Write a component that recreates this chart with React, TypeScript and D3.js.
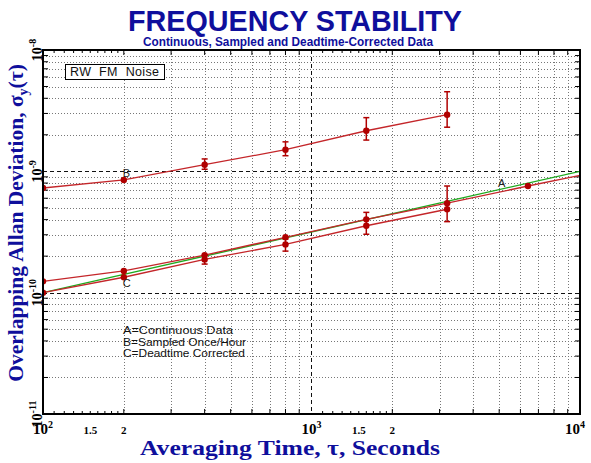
import React from 'react';
import * as d3 from 'd3';

// averaging times, seconds
const tau = [100, 200, 400, 800, 1600, 3200, 6400];

// A = continuous data (line runs on to the right edge)
const contSigma = [1.24e-10, 1.51e-10, 2.04e-10, 2.86e-10, 4.02e-10, 5.46e-10, 7.57e-10];
const contEdge = { tau: 10000, sigma: 9.25e-10 };

// B = sampled once/hour
const sampSigma = [7.29e-10, 8.49e-10, 1.135e-9, 1.507e-9, 2.16e-9, 2.93e-9];

// C = deadtime corrected
const deadSigma = [1.0e-10, 1.34e-10, 1.88e-10, 2.5e-10, 3.56e-10, 4.87e-10];

// RW FM noise model line
const noiseTau = [100, 10000];
const noiseSigma = [1e-10, 1e-9];

// error bars [tau, low, high]
const sampErr = [
    [400, 1.04e-9, 1.265e-9],
    [800, 1.345e-9, 1.75e-9],
    [1600, 1.81e-9, 2.77e-9],
    [3200, 2.31e-9, 4.53e-9],
];
const lowErr = [
    [400, 1.72e-10, 2.04e-10],
    [800, 2.2e-10, 2.77e-10],
    [1600, 3.03e-10, 4.59e-10],
    [3200, 3.85e-10, 7.57e-10],
];

const xDecades = [2, 3, 4];
const yDecades = [-8, -9, -10, -11];
const xSubLabels = ['1.5', '2'];
const legendLines = ['A=Continuous Data', 'B=Sampled Once/Hour', 'C=Deadtime Corrected'];
const legendWidths = [110, 123, 122];

const W = 591, H = 463;
const L = 43, R = 580, T = 50, B = 414;
const BLUE = '#0f0f9c';
const LINE = '#c4262a';
const DOT = '#b00000';

export default function App() {
    const x = d3.scaleLog().domain([100, 10000]).range([L, R]);
    const y = d3.scaleLog().domain([1e-11, 1e-8]).range([B, T]);

    //minor grid values
    const xGrid: number[] = [];
    [2, 3].forEach(d => { for (let k = 2; k <= 9; k++) xGrid.push(k * Math.pow(10, d)); });
    const xSmall: number[] = [];
    [2, 3].forEach(d => { for (let k = 11; k <= 19; k++) xSmall.push(k / 10 * Math.pow(10, d)); });
    const yGrid: number[] = [];
    [-11, -10, -9].forEach(e => { for (let k = 2; k <= 9; k++) yGrid.push(k * Math.pow(10, e)); });

    const line = d3.line<[number, number]>().x(d => x(d[0])).y(d => y(d[1]));
    const contPts: [number, number][] = tau.map((t, i) => [t, contSigma[i]]);
    const sampPts: [number, number][] = sampSigma.map((s, i) => [tau[i], s]);
    const deadPts: [number, number][] = deadSigma.map((s, i) => [tau[i], s]);
    const noisePts: [number, number][] = noiseTau.map((t, i) => [t, noiseSigma[i]]);

    const errBars = (rows: number[][], key: string) => rows.map((r, i) => (
        <g key={key + i} stroke={DOT} strokeWidth={1.5}>
            <line x1={x(r[0])} x2={x(r[0])} y1={y(r[1])} y2={y(r[2])} />
            <line x1={x(r[0]) - 3} x2={x(r[0]) + 3} y1={y(r[1])} y2={y(r[1])} />
            <line x1={x(r[0]) - 3} x2={x(r[0]) + 3} y1={y(r[2])} y2={y(r[2])} />
        </g>
    ));
    const dots = (pts: [number, number][], key: string) => pts.map((p, i) => (
        <circle key={key + i} cx={x(p[0])} cy={y(p[1])} r={3.2} fill={DOT} />
    ));

    const sans = 'Liberation Sans, Arial, sans-serif';
    const serif = 'Liberation Serif, Times New Roman, serif';

    return (
        <svg width={W} height={H} style={{ position: 'absolute', left: 0, top: 0, background: '#fff' }}>
            <defs>
                <clipPath id="plot"><rect x={L} y={T} width={R - L} height={B - T} /></clipPath>
            </defs>
            <rect width={W} height={H} fill="#fff" />

            {/* title */}
            <text x={295} y={31} textAnchor="middle" fontFamily={sans} fontWeight="bold" fontSize={29}
                fill={BLUE} textLength={334} lengthAdjust="spacingAndGlyphs">FREQUENCY STABILITY</text>
            <text x={288} y={46} textAnchor="middle" fontFamily={sans} fontWeight="bold" fontSize={13}
                fill={BLUE} textLength={290} lengthAdjust="spacingAndGlyphs">Continuous, Sampled and Deadtime-Corrected Data</text>

            {/* grid */}
            <g stroke="#777" strokeWidth={1} strokeDasharray="1,2">
                {xGrid.map(v => <line key={'gx' + v} x1={Math.round(x(v)) + 0.5} x2={Math.round(x(v)) + 0.5} y1={T} y2={B} />)}
                {yGrid.map(v => <line key={'gy' + v} x1={L} x2={R} y1={Math.round(y(v)) + 0.5} y2={Math.round(y(v)) + 0.5} />)}
            </g>
            <g stroke="#111" strokeWidth={1} strokeDasharray="4,3">
                <line x1={Math.round(x(1000)) + 0.5} x2={Math.round(x(1000)) + 0.5} y1={T} y2={B} />
                {[1e-9, 1e-10].map(v => <line key={'my' + v} x1={L} x2={R} y1={Math.round(y(v)) + 0.5} y2={Math.round(y(v)) + 0.5} />)}
            </g>

            {/* ticks */}
            <g stroke="#000" strokeWidth={1}>
                {xGrid.map(v => <g key={'tx' + v}>
                    <line x1={x(v)} x2={x(v)} y1={B} y2={B - 5} />
                    <line x1={x(v)} x2={x(v)} y1={T} y2={T + 5} />
                </g>)}
                {xSmall.map(v => <g key={'ts' + v}>
                    <line x1={x(v)} x2={x(v)} y1={B} y2={B - 3} />
                    <line x1={x(v)} x2={x(v)} y1={T} y2={T + 3} />
                </g>)}
                {yGrid.map(v => <g key={'ty' + v}>
                    <line x1={L} x2={L + 5} y1={y(v)} y2={y(v)} />
                    <line x1={R} x2={R - 5} y1={y(v)} y2={y(v)} />
                </g>)}
            </g>

            {/* data */}
            <g clipPath="url(#plot)">
                <path d={line(noisePts) || ''} fill="none" stroke="#1faa1f" strokeWidth={1.4} />
                <path d={line([...contPts, [contEdge.tau, contEdge.sigma]]) || ''} fill="none" stroke={LINE} strokeWidth={1.3} />
                <path d={line(sampPts) || ''} fill="none" stroke={LINE} strokeWidth={1.3} />
                <path d={line(deadPts) || ''} fill="none" stroke={LINE} strokeWidth={1.3} />
                {errBars(sampErr, 'es')}
                {errBars(lowErr, 'el')}
                {dots(contPts, 'a')}
                {dots(sampPts, 'b')}
                {dots(deadPts, 'c')}
            </g>

            {/* curve labels */}
            <g fontFamily={sans} fontSize={11} fill="#222">
                <text x={x(200) - 1} y={y(1e-9) + 6}>B</text>
                <text x={x(200) - 1} y={y(deadSigma[1]) + 10}>C</text>
                <text x={x(4950)} y={y(contSigma[6]) + 0.5}>A</text>
            </g>

            {/* legend */}
            <g fontFamily={sans} fontSize={11.5} fill="#111">
                {legendLines.map((t, i) => (
                    <text key={t} x={123} y={334 + i * 11.7} textLength={legendWidths[i]} lengthAdjust="spacingAndGlyphs">{t}</text>
                ))}
            </g>

            {/* noise box */}
            <rect x={65.5} y={64.5} width={99} height={15} fill="#fff" stroke="#000" strokeWidth={1} />
            <text x={70} y={76} fontFamily={sans} fontSize={12.5} fill="#111" textLength={89}
                lengthAdjust="spacing" style={{ wordSpacing: '4px' }}>RW FM Noise</text>

            {/* frame */}
            <rect x={L} y={T} width={R - L} height={B - T} fill="none" stroke="#000" strokeWidth={2} />

            {/* x tick labels */}
            <g fontFamily={serif} fontWeight="bold" fill="#000">
                {xDecades.map(d => (
                    <text key={'xl' + d} x={Math.min(x(Math.pow(10, d)), W - 16)} y={434} textAnchor="middle" fontSize={15}>
                        10<tspan fontSize={10} dy={-6}>{d}</tspan>
                    </text>
                ))}
                {[100, 1000].map(base => xSubLabels.map(s => (
                    <text key={'xs' + base + s} x={x(base * Number(s))} y={434} textAnchor="middle" fontSize={11}>{s}</text>
                )))}
            </g>

            {/* y tick labels */}
            <g fontFamily={serif} fontWeight="bold" fill="#000">
                {yDecades.map(e => (
                    <text key={'yl' + e} transform={`translate(41.5, ${y(Math.pow(10, e))}) rotate(-90)`} textAnchor="middle" fontSize={14}>
                        10<tspan fontSize={10} dy={-6}>{'-' + Math.abs(e)}</tspan>
                    </text>
                ))}
            </g>

            {/* axis titles */}
            <text x={290} y={455} textAnchor="middle" fontFamily={serif} fontWeight="bold" fontSize={20.5} fill={BLUE}
                textLength={300} lengthAdjust="spacingAndGlyphs">
                Averaging Time, τ, Seconds
            </text>
            <text transform="translate(23, 223) rotate(-90)" textAnchor="middle" fontFamily={serif} fontWeight="bold" fontSize={21.5} fill={BLUE}>
                Overlapping Allan Deviation, σ<tspan fontSize={14} dy={5}>y</tspan><tspan dy={-5}>(τ)</tspan>
            </text>
        </svg>
    );
}
